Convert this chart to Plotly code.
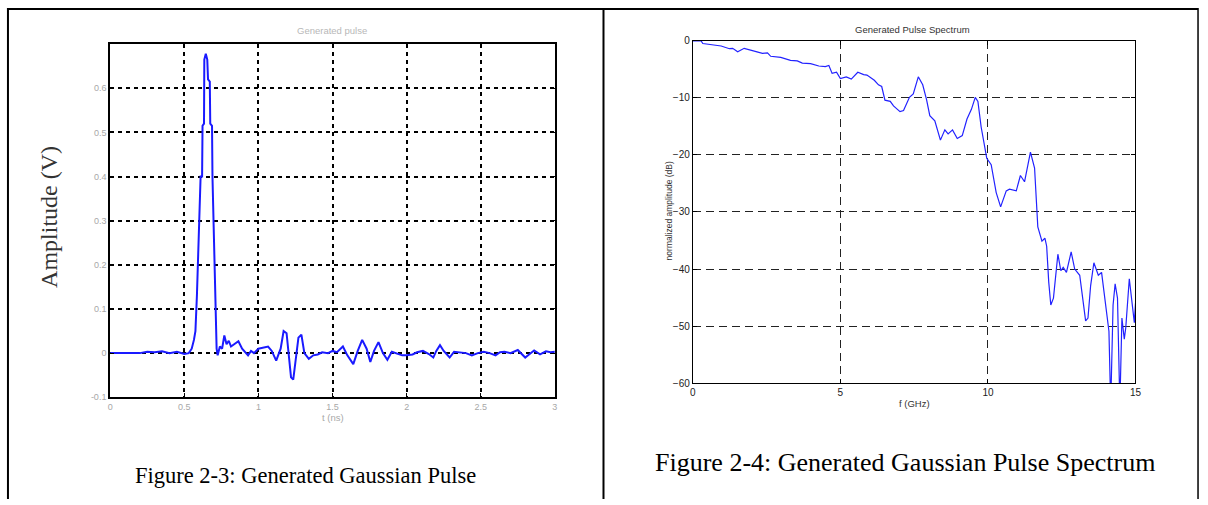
import plotly.graph_objects as go

# ---- Figure 2-3: generated Gaussian pulse (time domain) ----
pulse_t_ns = [
    0.0, 0.1, 0.2, 0.25, 0.3, 0.35, 0.4, 0.45, 0.48, 0.5, 0.53, 0.55, 0.565, 0.575,
    0.585, 0.60, 0.61, 0.62, 0.623, 0.633, 0.635, 0.645, 0.655, 0.66, 0.672, 0.675,
    0.687, 0.69, 0.70, 0.71, 0.715, 0.718, 0.725, 0.74, 0.755, 0.77, 0.785, 0.80,
    0.815, 0.84, 0.865, 0.89, 0.93, 0.95, 0.97, 1.0, 1.03, 1.065, 1.09, 1.12, 1.15,
    1.17, 1.19, 1.205, 1.22, 1.235, 1.25, 1.27, 1.29, 1.31, 1.34, 1.37, 1.40, 1.43,
    1.47, 1.50, 1.53, 1.57, 1.60, 1.64, 1.67, 1.70, 1.73, 1.755, 1.78, 1.81, 1.84,
    1.87, 1.90, 1.93, 1.97, 2.0, 2.04, 2.07, 2.11, 2.15, 2.18, 2.20, 2.225, 2.25,
    2.29, 2.32, 2.36, 2.40, 2.44, 2.48, 2.52, 2.56, 2.60, 2.63, 2.66, 2.70, 2.75,
    2.80, 2.83, 2.86, 2.9, 2.94, 2.97, 3.0,
]
pulse_amp_v = [
    0.0, 0.0, 0.0, 0.003, 0.002, 0.004, 0.0, 0.003, 0.0, -0.002, 0.0, 0.01, 0.03, 0.05,
    0.13, 0.28, 0.40, 0.40, 0.515, 0.52, 0.665, 0.678, 0.665, 0.62, 0.615, 0.52,
    0.515, 0.40, 0.28, 0.12, 0.05, 0.01, -0.005, 0.015, 0.01, 0.04, 0.02, 0.028,
    0.015, 0.022, 0.027, 0.01, -0.005, 0.005, 0.0, 0.01, 0.012, 0.015, 0.005, -0.017, 0.01,
    0.05, 0.045, 0.0, -0.055, -0.06, -0.02, 0.035, 0.042, 0.0, -0.013, -0.005, -0.003, 0.002,
    0.0, 0.005, 0.002, 0.015, -0.005, -0.025, 0.005, 0.03, 0.01, -0.02, 0.005, 0.025, 0.0,
    -0.015, 0.003, 0.0, -0.005, -0.005, -0.003, 0.002, 0.005, -0.002, -0.01, 0.005, 0.018, 0.005,
    -0.01, 0.003, 0.002, 0.0, -0.005, 0.0, 0.003, 0.0, -0.005, 0.002, 0.003, 0.0, 0.007,
    -0.01, -0.002, 0.006, -0.003, 0.004, 0.002, 0.003,
]

# ---- Figure 2-4: generated pulse spectrum ----
spec_f_ghz = [
    0.0, 0.28, 0.34, 0.96, 1.24, 1.35, 1.52, 1.74, 2.02, 2.36, 2.53, 2.64, 2.98, 3.31,
    3.54, 3.71, 3.99, 4.27, 4.49, 4.61, 4.72, 4.87, 5.0, 5.2, 5.37, 5.59, 5.79, 5.9,
    6.15, 6.29, 6.4, 6.51, 6.69, 6.8, 7.02, 7.14, 7.34, 7.47, 7.64, 7.79, 7.92, 8.03,
    8.2, 8.39, 8.54, 8.65, 8.8, 8.96, 9.13, 9.29, 9.44, 9.57, 9.66, 9.77, 9.96, 10.11,
    10.28, 10.43, 10.62, 10.73, 10.96, 11.1, 11.24, 11.44, 11.58, 11.63, 11.69, 11.83,
    11.93, 11.99, 12.06, 12.13, 12.22, 12.37, 12.47, 12.55, 12.66, 12.82, 12.94, 13.11,
    13.2, 13.31, 13.39, 13.48, 13.59, 13.74, 13.85, 13.99, 14.1, 14.16, 14.24, 14.31,
    14.39, 14.47, 14.54, 14.62, 14.67, 14.79, 14.92, 14.96, 15.0,
]
spec_db = [
    0.0, 0.0, -0.45, -0.9, -1.37, -1.3, -1.9, -1.3, -1.7, -2.2, -2.1, -2.7, -2.9, -3.4,
    -3.5, -3.9, -4.0, -4.4, -4.5, -4.3, -5.7, -5.5, -6.6, -6.3, -6.7, -5.5, -5.9, -6.0,
    -6.9, -7.7, -8.0, -10.4, -10.6, -11.4, -12.4, -12.2, -9.9, -9.3, -6.3, -7.7, -10.3, -13.1,
    -14.0, -17.4, -15.6, -16.3, -15.6, -17.1, -16.6, -13.7, -12.0, -9.9, -10.6, -15.1, -20.6, -21.7,
    -26.6, -29.1, -26.3, -26.0, -26.3, -23.6, -24.7, -19.5, -22.3, -28.0, -32.6, -35.1,
    -34.6, -36.0, -42.3, -46.3, -45.1, -37.4, -40.3, -39.7, -40.6, -37.0, -40.0, -41.1,
    -44.6, -49.1, -48.6, -42.9, -38.9, -41.1, -40.6, -46.9, -50.9, -64.0, -46.3, -42.6,
    -45.1, -64.0, -48.6, -52.3, -50.3, -41.7, -46.9, -49.4, -46.0,
]

pulse_xticks = [0, 0.5, 1, 1.5, 2, 2.5, 3]
pulse_xtick_text = ["0", "0.5", "1", "1.5", "2", "2.5", "3"]
pulse_yticks = [-0.1, 0, 0.1, 0.2, 0.3, 0.4, 0.5, 0.6]
pulse_ytick_text = ["-0.1", "0", "0.1", "0.2", "0.3", "0.4", "0.5", "0.6"]
spec_xticks = [0, 5, 10, 15]
spec_yticks = [0, -10, -20, -30, -40, -50, -60]

W, H = 1208, 505


def px_x(v):
    return v / W


def px_y(v):
    return 1 - v / H


fig = go.Figure()

fig.add_trace(go.Scatter(
    x=pulse_t_ns, y=pulse_amp_v, mode="lines",
    line=dict(color="#1a1aff", width=2), xaxis="x", yaxis="y",
    showlegend=False, hoverinfo="skip",
))
fig.add_trace(go.Scatter(
    x=spec_f_ghz, y=spec_db, mode="lines",
    line=dict(color="#2222ff", width=1.2), xaxis="x2", yaxis="y2",
    showlegend=False, hoverinfo="skip",
))

left_tick_font = dict(family="Liberation Sans, Arial", size=9, color="#a8a8a8")
right_tick_font = dict(family="Liberation Sans, Arial", size=10, color="#222222")

fig.update_layout(
    width=W, height=H,
    margin=dict(l=0, r=0, t=0, b=0),
    paper_bgcolor="white", plot_bgcolor="white",
    xaxis=dict(
        domain=[px_x(108), px_x(556)], range=[0, 3], anchor="y",
        tickvals=pulse_xticks, ticktext=pulse_xtick_text, tickfont=left_tick_font,
        showline=True, mirror="ticks", linecolor="black", linewidth=2,
        ticks="inside", ticklen=4, tickcolor="black",
        showgrid=True, gridcolor="black", gridwidth=1.5, griddash="4px,4px",
        zeroline=False, fixedrange=True,
    ),
    yaxis=dict(
        domain=[px_y(401), px_y(40)], range=[-0.1, 0.7], anchor="x",
        tickvals=pulse_yticks, ticktext=pulse_ytick_text, tickfont=left_tick_font,
        showline=True, mirror="ticks", linecolor="black", linewidth=2,
        ticks="inside", ticklen=4, tickcolor="black",
        showgrid=True, gridcolor="black", gridwidth=1.5, griddash="4px,4px",
        zeroline=False, fixedrange=True,
    ),
    xaxis2=dict(
        domain=[px_x(695), px_x(1141)], range=[0, 15], anchor="y2",
        tickvals=spec_xticks, tickfont=right_tick_font,
        showline=True, mirror="ticks", linecolor="black", linewidth=1,
        ticks="inside", ticklen=4, tickcolor="black",
        showgrid=True, gridcolor="#222222", gridwidth=1, griddash="8px,5px",
        zeroline=False, fixedrange=True,
    ),
    yaxis2=dict(
        domain=[px_y(386.5), px_y(36.7)], range=[-60, 0], anchor="x2",
        tickvals=spec_yticks, tickfont=right_tick_font,
        showline=True, mirror="ticks", linecolor="black", linewidth=1,
        ticks="inside", ticklen=4, tickcolor="black",
        showgrid=True, gridcolor="#222222", gridwidth=1, griddash="8px,5px",
        zeroline=False, fixedrange=True,
    ),
)

# Table frame around the two figures
frame_lines = [
    (4, 4, 1204, 4, 2),       # top
    (5, 3, 5, 505, 2),        # left
    (605, 3, 605, 505, 2),    # divider
    (1204, 3, 1204, 505, 1.5),  # right
]
for x0, y0, x1, y1, w in frame_lines:
    fig.add_shape(type="line", xref="paper", yref="paper",
                  x0=px_x(x0), y0=px_y(y0), x1=px_x(x1), y1=px_y(y1),
                  line=dict(color="black", width=w))

annotations = [
    # left chart texts
    dict(text="Generated pulse", x=px_x(331), y=px_y(26),
         font=dict(family="Liberation Sans, Arial", size=9.5, color="#b8b8b8")),
    dict(text="t (ns)", x=px_x(332), y=px_y(422),
         font=dict(family="Liberation Sans, Arial", size=9.5, color="#a8a8a8")),
    dict(text="Amplitude (V)", x=px_x(47), y=px_y(217), textangle=-90,
         font=dict(family="Liberation Serif, Times New Roman", size=24, color="#333333")),
    dict(text="Figure 2-3: Generated Gaussian Pulse", x=px_x(305), y=px_y(481),
         font=dict(family="Liberation Serif, Times New Roman", size=22.5, color="black")),
    # right chart texts
    dict(text="Generated Pulse Spectrum", x=px_x(916), y=px_y(25),
         font=dict(family="Liberation Sans, Arial", size=9.5, color="#333333")),
    dict(text="f (GHz)", x=px_x(918), y=px_y(407),
         font=dict(family="Liberation Sans, Arial", size=9.5, color="#333333")),
    dict(text="normalized amplitude (dB)", x=px_x(671), y=px_y(211), textangle=-90,
         font=dict(family="Liberation Sans, Arial", size=8.5, color="#333333")),
    dict(text="Figure 2-4: Generated Gaussian Pulse Spectrum", x=px_x(909), y=px_y(468),
         font=dict(family="Liberation Serif, Times New Roman", size=26, color="black")),
]
for a in annotations:
    fig.add_annotation(xref="paper", yref="paper", showarrow=False,
                       xanchor="center", yanchor="middle", **a)

fig.write_html("out.html")
